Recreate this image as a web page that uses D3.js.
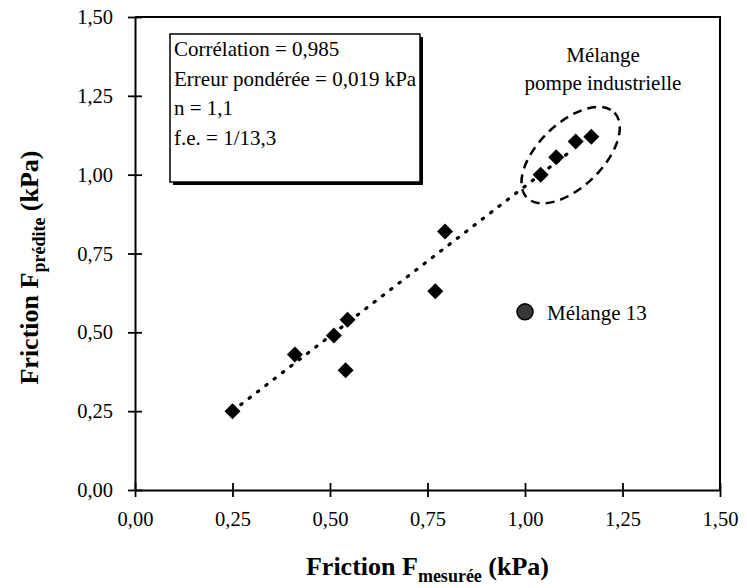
<!DOCTYPE html>
<html>
<head>
<meta charset="utf-8">
<script src="https://cdn.jsdelivr.net/npm/d3@7"></script>
<style>
  body { margin: 0; background: #fff; }
  svg { display: block; }
</style>
</head>
<body>
<div id="chart"></div>
<script>
// measured vs predicted friction (kPa)
const measured  = [0.25, 0.41, 0.51, 0.545, 0.54, 0.77, 0.795, 1.04, 1.08, 1.13, 1.17];
const predicted = [0.25, 0.43, 0.49, 0.54, 0.38, 0.63, 0.82, 1.00, 1.055, 1.105, 1.12];

// outlier: Mélange 13
const outlier = [1.0, 0.565];

// fitted line, dotted
const fitX = [0.25, 1.12];
const fitSlope = 0.95, fitIntercept = 0.013;

const ticks = [0, 0.25, 0.5, 0.75, 1.0, 1.25, 1.5];
const stats = ["Corrélation = 0,985", "Erreur pondérée = 0,019 kPa", "n = 1,1", "f.e. = 1/13,3"];

const width = 747, height = 588;
const margin = {top: 17, right: 27, bottom: 98, left: 135};
const serif = "'Liberation Serif', 'Times New Roman', serif";

const svg = d3.select("#chart").append("svg")
  .attr("width", width)
  .attr("height", height)
  .style("font-family", serif);

const x = d3.scaleLinear().domain([0, 1.5]).range([margin.left, width - margin.right]);
const y = d3.scaleLinear().domain([0, 1.5]).range([height - margin.bottom, margin.top]);

const fmt = d => d3.format(".2f")(d).replace(".", ",");

// frame (top and right)
svg.append("path")
  .attr("d", `M${x(0)},${y(1.5)}H${x(1.5)}V${y(0)}`)
  .attr("fill", "none")
  .attr("stroke", "#000")
  .attr("stroke-width", 2);

// axes
const xAxis = svg.append("g")
  .attr("transform", `translate(0,${y(0)})`)
  .call(d3.axisBottom(x).tickValues(ticks).tickFormat(fmt).tickSizeInner(7).tickSizeOuter(0).tickPadding(22));

const yAxis = svg.append("g")
  .attr("transform", `translate(${x(0)},0)`)
  .call(d3.axisLeft(y).tickValues(ticks).tickFormat(fmt).tickSizeInner(7).tickSizeOuter(0).tickPadding(15));

[xAxis, yAxis].forEach(a => {
  a.select(".domain").attr("stroke-width", 2);
  a.selectAll(".tick line").attr("stroke-width", 1.8);
  a.selectAll("text")
    .attr("font-family", serif)
    .attr("font-size", 20.5)
    .attr("fill", "#000");
});
xAxis.selectAll(".tick line").attr("y1", -7);
yAxis.selectAll(".tick line").attr("x1", 7);
xAxis.selectAll(".tick text").attr("dy", "0.32em");

// axis titles
const xTitle = svg.append("text")
  .attr("x", (x(0) + x(1.5)) / 2)
  .attr("y", 575)
  .attr("text-anchor", "middle")
  .attr("font-weight", "bold")
  .attr("font-size", 26);
xTitle.append("tspan").text("Friction F");
xTitle.append("tspan").attr("font-size", 18).attr("dy", 7).text("mesurée");
xTitle.append("tspan").attr("dy", -7).text(" (kPa)");

const yTitle = svg.append("text")
  .attr("transform", `translate(38,${(y(0) + y(1.5)) / 2 + 14}) rotate(-90)`)
  .attr("text-anchor", "middle")
  .attr("font-weight", "bold")
  .attr("font-size", 26);
yTitle.append("tspan").text("Friction F");
yTitle.append("tspan").attr("font-size", 18).attr("dy", 7).text("prédite");
yTitle.append("tspan").attr("dy", -7).text(" (kPa)");

// stats box with shadow
const box = {x: 170, y: 34, w: 250, h: 148};
svg.append("rect")
  .attr("x", box.x + 3).attr("y", box.y + 3)
  .attr("width", box.w).attr("height", box.h)
  .attr("fill", "#000");
svg.append("rect")
  .attr("x", box.x).attr("y", box.y)
  .attr("width", box.w).attr("height", box.h)
  .attr("fill", "#fff")
  .attr("stroke", "#000")
  .attr("stroke-width", 1.5);
svg.append("g").selectAll("text")
  .data(stats)
  .join("text")
    .attr("x", box.x + 4)
    .attr("y", (d, i) => 56 + i * 29.5)
    .attr("font-size", 21)
    .text(d => d);

// fitted line
svg.append("line")
  .attr("x1", x(fitX[0])).attr("y1", y(fitIntercept + fitSlope * fitX[0]))
  .attr("x2", x(fitX[1])).attr("y2", y(fitIntercept + fitSlope * fitX[1]))
  .attr("stroke", "#000")
  .attr("stroke-width", 3.2)
  .attr("stroke-linecap", "round")
  .attr("stroke-dasharray", "1.5 9");

// ellipse around industrial pump mixes
const cx = x(1.117), cy = y(1.062);
svg.append("ellipse")
  .attr("transform", `translate(${cx},${cy}) rotate(-44)`)
  .attr("rx", 61).attr("ry", 32)
  .attr("fill", "none")
  .attr("stroke", "#000")
  .attr("stroke-width", 2.5)
  .attr("stroke-dasharray", "9 6");

svg.append("text")
  .attr("x", x(1.2)).attr("y", 62)
  .attr("text-anchor", "middle")
  .attr("font-size", 21)
  .text("Mélange");
svg.append("text")
  .attr("x", x(1.2)).attr("y", 90)
  .attr("text-anchor", "middle")
  .attr("font-size", 21)
  .text("pompe industrielle");

// points
const diamond = d3.symbol().type(d3.symbolSquare).size(128);
svg.append("g").selectAll("path")
  .data(measured.map((m, i) => [m, predicted[i]]))
  .join("path")
    .attr("d", diamond)
    .attr("transform", d => `translate(${x(d[0])},${y(d[1])}) rotate(45)`)
    .attr("fill", "#000");

// outlier
svg.append("circle")
  .attr("cx", x(outlier[0])).attr("cy", y(outlier[1]))
  .attr("r", 8)
  .attr("fill", "#383838")
  .attr("stroke", "#000")
  .attr("stroke-width", 1.5);
svg.append("text")
  .attr("x", x(outlier[0]) + 22).attr("y", y(outlier[1]) + 8)
  .attr("font-size", 21)
  .text("Mélange 13");
</script>
</body>
</html>
